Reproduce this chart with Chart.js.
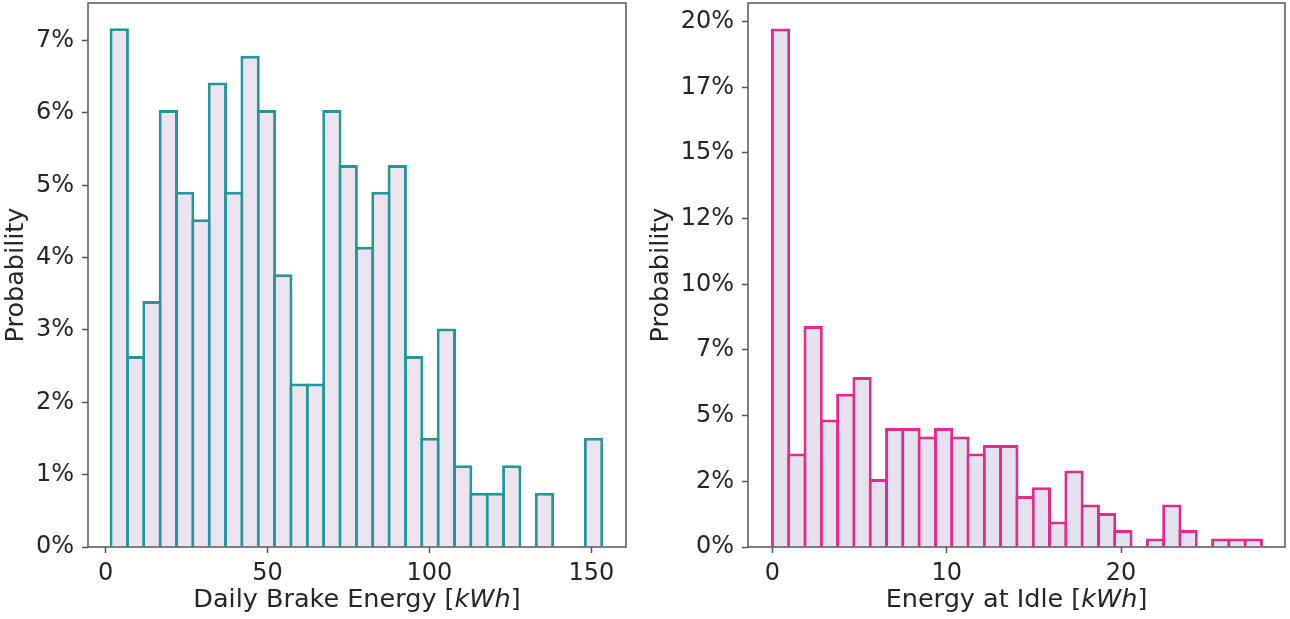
<!DOCTYPE html>
<html>
<head>
<meta charset="utf-8">
<script src="https://cdn.jsdelivr.net/npm/chart.js@4.4.1/dist/chart.umd.min.js"></script>
<style>
  html, body { margin: 0; padding: 0; background: #fff; }
  .panel { position: absolute; top: 0; width: 645px; height: 619px; }
  #leftPanel { left: 0; }
  #rightPanel { left: 645px; }
</style>
</head>
<body>
<div class="panel" id="leftPanel"><canvas id="brakeChart" width="645" height="619"></canvas></div>
<div class="panel" id="rightPanel"><canvas id="idleChart" width="645" height="619"></canvas></div>
<script>
// daily brake energy histogram, 30 bins, probability in %
const brakeBinStart = 1.7;
const brakeBinWidth = 5.05;
const brakeProb = [7.17, 2.64, 3.40, 6.04, 4.91, 4.53, 6.42, 4.91, 6.79, 6.04,
                   3.77, 2.26, 2.26, 6.04, 5.28, 4.15, 4.91, 5.28, 2.64, 1.51,
                   3.02, 1.13, 0.75, 0.75, 1.13, 0, 0.75, 0, 0, 1.51];
const brakeXTicks = [0, 50, 100, 150];
const brakeYTicks = [0, 1, 2, 3, 4, 5, 6, 7];
const brakeYLabels = ['0%', '1%', '2%', '3%', '4%', '5%', '6%', '7%'];

// energy at idle histogram, 30 bins, probability in %
const idleBinStart = 0;
const idleBinWidth = 0.935;
const idleProb = [19.74, 3.56, 8.41, 4.85, 5.83, 6.47, 2.59, 4.53, 4.53, 4.21,
                  4.53, 4.21, 3.56, 3.88, 3.88, 1.94, 2.27, 0.97, 2.91, 1.62,
                  1.29, 0.65, 0, 0.32, 1.62, 0.65, 0, 0.32, 0.32, 0.32];
const idleXTicks = [0, 10, 20];
const idleYTicks = [0, 2.5, 5, 7.5, 10, 12.5, 15, 17.5, 20];
const idleYLabels = ['0%', '2%', '5%', '7%', '10%', '12%', '15%', '17%', '20%'];

const FONT = 'DejaVu Sans';
const TEXT = '#262626';
const FRAME = '#555555';

// box around the plot area + x title with italic unit
const frameAndTitle = {
    id: 'frameAndTitle',
    afterDraw(chart, args, opts) {
        const { ctx, chartArea: a } = chart;
        ctx.save();
        ctx.strokeStyle = FRAME;
        ctx.lineWidth = 1.5;
        ctx.strokeRect(a.left, a.top, a.right - a.left, a.bottom - a.top);

        const parts = [[opts.title + ' [', 'normal'], [opts.unit, 'italic'], [']', 'normal']];
        let total = 0;
        parts.forEach(p => {
            ctx.font = p[1] + ' 25.5px "' + FONT + '"';
            p.push(ctx.measureText(p[0]).width);
            total += p[2];
        });
        let x = (a.left + a.right) / 2 - total / 2;
        const y = a.bottom + 53;
        ctx.fillStyle = TEXT;
        ctx.textBaseline = 'middle';
        ctx.textAlign = 'left';
        parts.forEach(p => {
            ctx.font = p[1] + ' 25.5px "' + FONT + '"';
            ctx.fillText(p[0], x, y);
            x += p[2];
        });
        ctx.restore();
    }
};

function makeHistogram(canvasId, cfg) {
    const points = cfg.values.map((v, i) => ({ x: cfg.binStart + (i + 0.5) * cfg.binWidth, y: v }));
    return new Chart(document.getElementById(canvasId), {
        type: 'bar',
        data: {
            datasets: [{
                data: points,
                backgroundColor: cfg.fill,
                borderColor: cfg.edge,
                borderWidth: 3,
                barPercentage: 1.18,
                categoryPercentage: 1
            }]
        },
        plugins: [frameAndTitle],
        options: {
            responsive: false,
            animation: false,
            layout: { padding: { top: 3, right: cfg.rightPad, bottom: 0, left: 0 } },
            plugins: {
                legend: { display: false },
                tooltip: { enabled: false },
                frameAndTitle: { title: cfg.xTitle, unit: 'kWh' }
            },
            scales: {
                x: {
                    type: 'linear',
                    offset: false,
                    min: cfg.xMin,
                    max: cfg.xMax,
                    afterBuildTicks: s => { s.ticks = cfg.xTicks.map(v => ({ value: v })); },
                    afterFit: s => { s.height = 72; s.paddingLeft = 0; s.paddingRight = 0; },
                    border: { display: false },
                    grid: { offset: false, drawOnChartArea: false, tickLength: 6, tickColor: FRAME, tickWidth: 1.5 },
                    ticks: { color: TEXT, font: { family: FONT, size: 24 }, padding: 6, maxRotation: 0 }
                },
                y: {
                    min: 0,
                    max: cfg.yMax,
                    afterBuildTicks: s => { s.ticks = cfg.yTicks.map(v => ({ value: v })); },
                    afterFit: s => { s.width = cfg.yAxisWidth; s.paddingTop = 0; s.paddingBottom = 0; },
                    border: { display: false },
                    grid: { drawOnChartArea: false, tickLength: 6, tickColor: FRAME, tickWidth: 1.5 },
                    ticks: {
                        color: TEXT,
                        font: { family: FONT, size: 24 },
                        padding: 8,
                        callback: v => cfg.yLabels[cfg.yTicks.indexOf(v)]
                    },
                    title: {
                        display: true,
                        text: 'Probability',
                        color: TEXT,
                        font: { family: FONT, size: 25.5 },
                        padding: { top: 1, bottom: 0 }
                    }
                }
            }
        }
    });
}

makeHistogram('brakeChart', {
    values: brakeProb, binStart: brakeBinStart, binWidth: brakeBinWidth,
    xTicks: brakeXTicks, yTicks: brakeYTicks, yLabels: brakeYLabels,
    xMin: -5.43, xMax: 160.7, yMax: 7.52,
    xTitle: 'Daily Brake Energy',
    fill: '#ede3ef', edge: '#23979b',
    yAxisWidth: 88, rightPad: 19
});

makeHistogram('idleChart', {
    values: idleProb, binStart: idleBinStart, binWidth: idleBinWidth,
    xTicks: idleXTicks, yTicks: idleYTicks, yLabels: idleYLabels,
    xMin: -1.40, xMax: 29.4, yMax: 20.71,
    xTitle: 'Energy at Idle',
    fill: '#e5e2ef', edge: '#e7298a',
    yAxisWidth: 103, rightPad: 5
});
</script>
</body>
</html>
